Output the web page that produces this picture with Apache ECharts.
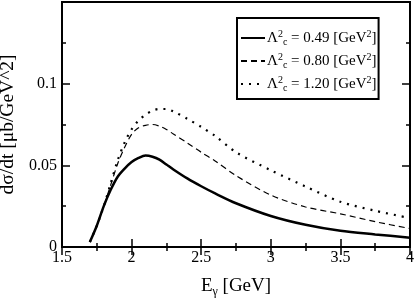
<!DOCTYPE html>
<html><head><meta charset="utf-8">
<script src="https://cdn.jsdelivr.net/npm/echarts@6/dist/echarts.min.js"></script>
<style>html,body{margin:0;padding:0;background:#fff}#c{width:415px;height:298px}</style>
</head><body><div id="c"></div>
<script>
const xValues = [1.7, 1.75, 1.8, 1.85, 1.9, 1.95, 2.0, 2.05, 2.1, 2.15, 2.2, 2.25, 2.3, 2.4, 2.5, 2.6, 2.75, 3.0, 3.25, 3.5, 3.75, 4.0];
const solid049 = [0.003, 0.013, 0.025, 0.035, 0.043, 0.048, 0.052, 0.0545, 0.056, 0.0553, 0.0535, 0.0505, 0.0475, 0.042, 0.0372, 0.0328, 0.0268, 0.019, 0.0136, 0.0099, 0.0077, 0.0057];
const dashed080 = [0.003, 0.013, 0.025, 0.038, 0.051, 0.061, 0.069, 0.073, 0.0745, 0.075, 0.074, 0.072, 0.0692, 0.0637, 0.058, 0.0527, 0.0437, 0.0318, 0.0245, 0.0203, 0.0155, 0.0113];
const dotted120 = [0.003, 0.013, 0.025, 0.039, 0.053, 0.064, 0.072, 0.0775, 0.081, 0.0835, 0.0845, 0.0845, 0.083, 0.0785, 0.0735, 0.068, 0.058, 0.047, 0.037, 0.0277, 0.0222, 0.0177];
const legendNames = ['0.49', '0.80', '1.20'];
const xTicks = [1.5, 2, 2.5, 3, 3.5, 4];
const yTicks = [0, 0.05, 0.1];

const font = 'Liberation Serif';
const pair = a => xValues.map((x, i) => [x, a[i]]);
const chart = echarts.init(document.getElementById('c'));
const axisCommon = {
  axisLine: {show: true, lineStyle: {color: '#000', width: 2}},
  axisTick: {show: true, inside: true, length: 8, lineStyle: {color: '#000', width: 1.5}},
  minorTick: {show: true, splitNumber: 2, length: 4, lineStyle: {color: '#000', width: 1.5}},
  splitLine: {show: false}
};
const legendRich = {
  t: {fontFamily: font, fontSize: 15, color: '#000'},
  sup: {fontFamily: font, fontSize: 10, color: '#000', verticalAlign: 'top', padding: [0, 0, 8, 0]},
  sub: {fontFamily: font, fontSize: 10, color: '#000', verticalAlign: 'bottom', padding: [8, 0, 0, 0]}
};
chart.setOption({
  animation: false,
  color: ['#000', '#000', '#000'],
  grid: {left: 62, right: 5, top: 2, bottom: 51, show: true, borderColor: '#000', borderWidth: 2, outerBoundsMode: 'none', containLabel: false},
  legend: {
    data: legendNames.map(n => 'L' + n),
    orient: 'vertical', left: 237, top: 18,
    padding: [11, 2, 6, 3],
    itemGap: 5,
    itemWidth: 24, itemHeight: 16,
    borderColor: '#000', borderWidth: 2,
    itemStyle: {opacity: 0},
    formatter: n => '{t|Λ}{sup|2}{sub|c}{t| = ' + n.slice(1) + ' [GeV}{sup|2}{t|]}',
    textStyle: {rich: legendRich, padding: [0, 0, 0, -3]}
  },
  xAxis: [
    Object.assign({type: 'value', min: 1.5, max: 4, interval: 0.5, position: 'bottom',
      name: '{t|E}{s|γ}{t| [GeV]}', nameLocation: 'middle', nameGap: 27,
      nameTextStyle: {rich: {t: {fontFamily: font, fontSize: 19, color: '#000'}, s: {fontFamily: font, fontSize: 12, color: '#000', verticalAlign: 'bottom', padding: [12, 0, 0, 0]}}},
      axisLabel: {fontFamily: font, fontSize: 16, color: '#000', margin: 3,
        formatter: v => xTicks.includes(+v.toFixed(2)) ? String(v) : ''}}, axisCommon),
    Object.assign({type: 'value', min: 1.5, max: 4, interval: 0.5, position: 'top', axisLabel: {show: false}}, axisCommon)
  ],
  yAxis: [
    Object.assign({type: 'value', min: 0, max: 0.15, interval: 0.05, position: 'left',
      name: 'dσ/dt [μb/GeV^2]', nameLocation: 'middle', nameGap: 39,
      nameTextStyle: {fontFamily: font, fontSize: 19.5, color: '#000'},
      axisLabel: {fontFamily: font, fontSize: 16, color: '#000', margin: 5,
        formatter: v => yTicks.some(t => Math.abs(t - v) < 1e-9) ? String(+v.toFixed(2)) : ''}}, axisCommon),
    Object.assign({type: 'value', min: 0, max: 0.15, interval: 0.05, position: 'right', axisLabel: {show: false}}, axisCommon)
  ],
  series: [
    {name: 'L0.49', type: 'line', data: pair(solid049), smooth: 0.3, symbol: 'none', lineStyle: {color: '#000', width: 2.5}},
    {name: 'L0.80', type: 'line', data: pair(dashed080), smooth: 0.3, symbol: 'none', lineStyle: {color: '#000', width: 1.2, type: [6, 4]}},
    {name: 'L1.20', type: 'line', data: pair(dotted120), smooth: 0.3, symbol: 'none', lineStyle: {color: '#000', width: 2.2, type: [2, 6]}}
  ]
});
</script></body></html>
